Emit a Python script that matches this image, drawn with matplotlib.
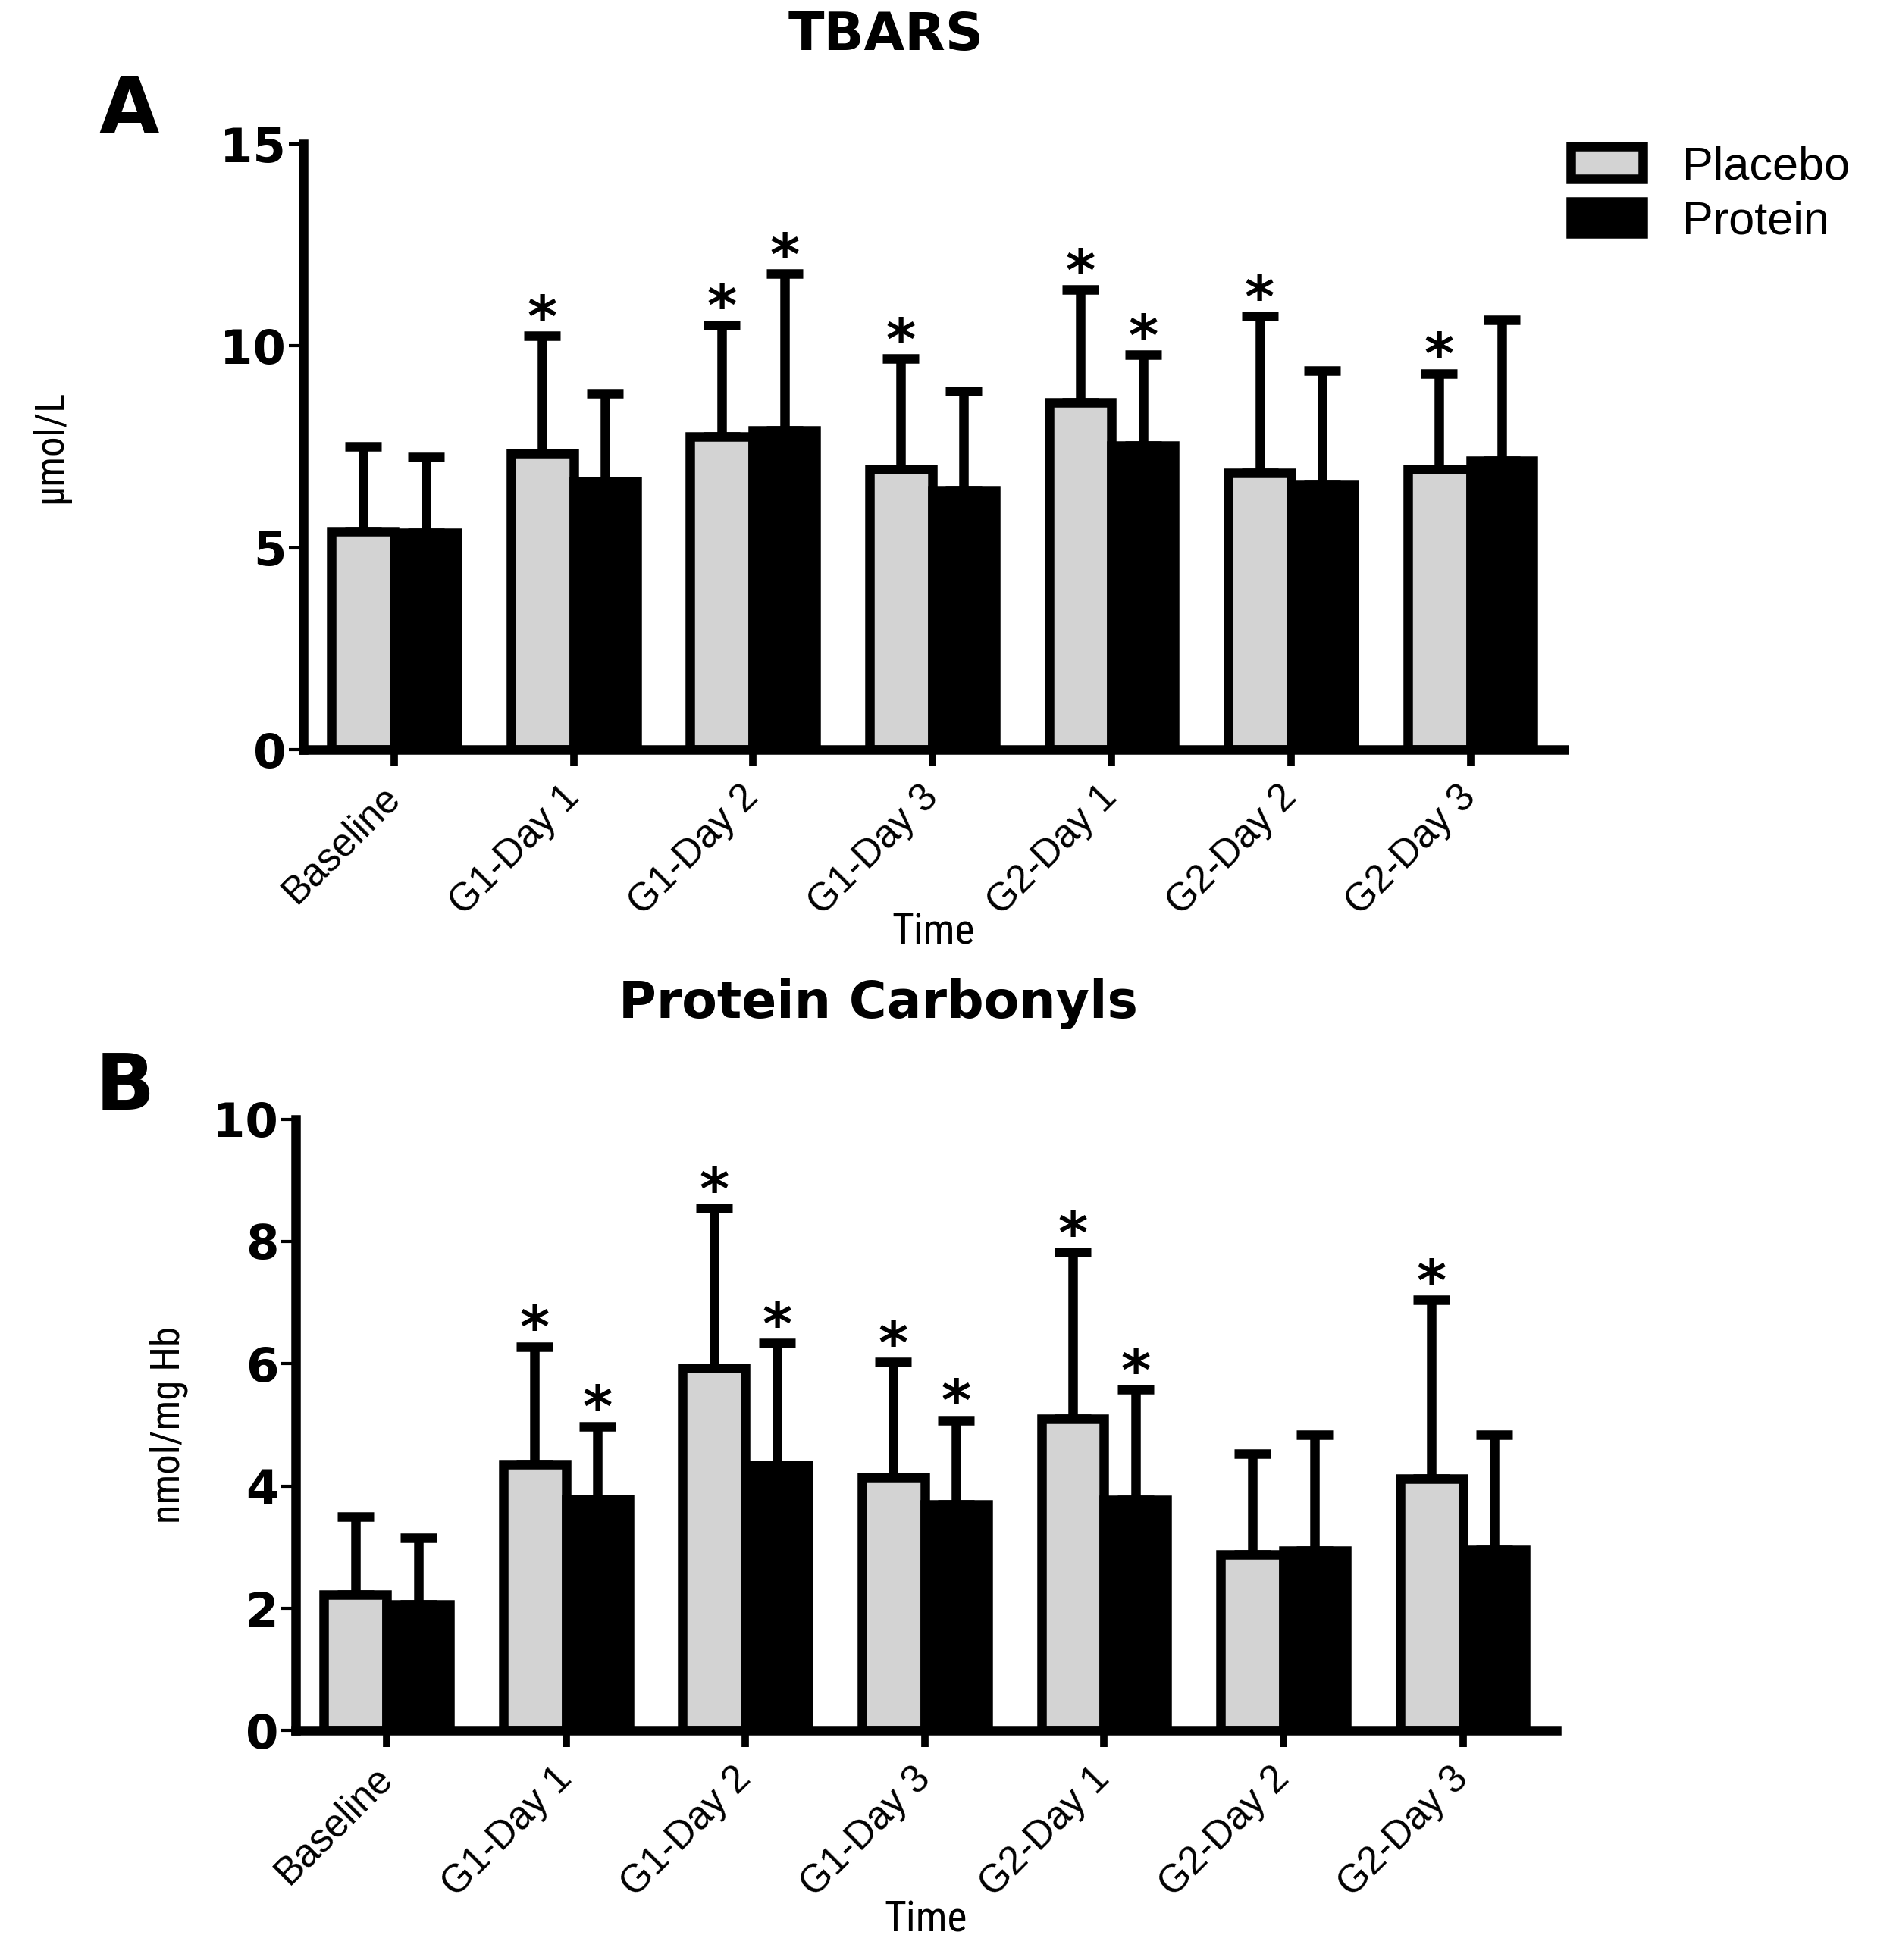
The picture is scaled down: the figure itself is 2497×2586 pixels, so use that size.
import numpy as np
import matplotlib
matplotlib.use("Agg")
import matplotlib.pyplot as plt
from matplotlib.patches import Patch
from matplotlib import font_manager

# data
times = ["Baseline", "G1-Day 1", "G1-Day 2", "G1-Day 3", "G2-Day 1", "G2-Day 2", "G2-Day 3"]

tbars_placebo = [5.40, 7.35, 7.75, 6.94, 8.60, 6.85, 6.94]
tbars_placebo_sd = [2.12, 2.90, 2.77, 2.75, 2.79, 3.89, 2.38]
tbars_protein = [5.37, 6.64, 7.90, 6.42, 7.53, 6.57, 7.16]
tbars_protein_sd = [1.88, 2.19, 3.89, 2.47, 2.25, 2.81, 3.49]
tbars_star_placebo = [False, True, True, True, True, True, True]
tbars_star_protein = [False, False, True, False, True, False, False]

carb_placebo = [2.22, 4.36, 5.93, 4.14, 5.10, 2.88, 4.12]
carb_placebo_sd = [1.28, 1.92, 2.61, 1.89, 2.72, 1.65, 2.92]
carb_protein = [2.06, 3.79, 4.34, 3.70, 3.77, 2.94, 2.96]
carb_protein_sd = [1.09, 1.19, 2.00, 1.38, 1.81, 1.90, 1.88]
carb_star_placebo = [False, True, True, True, True, False, True]
carb_star_protein = [False, True, True, True, True, False, False]

GREY = "#d3d3d3"
LW = 9

# a condensed face for the axis titles if one is around
names = {f.name for f in font_manager.fontManager.ttflist}
narrow = [n for n in ["Liberation Sans Narrow", "DejaVu Sans Condensed", "Roboto Condensed"] if n in names]
narrow = narrow + ["Liberation Sans", "DejaVu Sans"]

fig = plt.figure(figsize=(24.97, 25.86), dpi=100)


def draw_panel(ax, plac, plac_sd, prot, prot_sd, star_pl, star_pr, ymax, yticks, ylabel, xpad):
    x = np.arange(len(times))
    w = 0.35
    off = 0.175
    ax.bar(x - off, plac, w, color=GREY, edgecolor="black", linewidth=LW, zorder=2)
    ax.bar(x + off, prot, w, color="black", edgecolor="black", linewidth=LW, zorder=2)
    for xs, vals, sds in [(x - off, plac, plac_sd), (x + off, prot, prot_sd)]:
        ax.errorbar(xs, vals, yerr=[np.zeros(len(sds)), sds], fmt="none",
                    ecolor="black", elinewidth=LW, capsize=17, capthick=LW, zorder=1)
    # significance stars
    for i in range(len(times)):
        if star_pl[i]:
            ax.annotate("*", (x[i] - off, plac[i] + plac_sd[i]), xytext=(0, -12),
                        textcoords="offset points", ha="center", va="bottom",
                        fontsize=54, fontweight="bold")
        if star_pr[i]:
            ax.annotate("*", (x[i] + off, prot[i] + prot_sd[i]), xytext=(0, -12),
                        textcoords="offset points", ha="center", va="bottom",
                        fontsize=54, fontweight="bold")
    ax.set_xlim(-0.51, 6.52)
    ax.set_ylim(0, ymax)
    ax.set_yticks(yticks)
    ax.set_xticks(x)
    ax.set_xticklabels(times, rotation=45, ha="right", va="center", rotation_mode="anchor",
                       fontsize=37, family="Liberation Sans")
    for lab in ax.get_yticklabels():
        lab.set_fontsize(45)
        lab.set_fontweight("bold")
    ax.tick_params(axis="y", length=14, width=3, pad=2)
    ax.tick_params(axis="x", length=16, width=7, pad=24)
    for s in ["top", "right"]:
        ax.spines[s].set_visible(False)
    for s in ["left", "bottom"]:
        ax.spines[s].set_linewidth(LW)
    ax.set_xlabel("Time", fontsize=40, family=narrow, labelpad=xpad)
    ax.set_ylabel(ylabel, fontsize=38, family=narrow)


axA = fig.add_axes([0.160, 0.6175, 0.666, 0.309])
draw_panel(axA, tbars_placebo, tbars_placebo_sd, tbars_protein, tbars_protein_sd,
           tbars_star_placebo, tbars_star_protein, 15, [0, 5, 10, 15], "\u03bcmol/L", -10)
axA.yaxis.set_label_coords(-0.185, 0.5)

axB = fig.add_axes([0.156, 0.117, 0.666, 0.312])
draw_panel(axB, carb_placebo, carb_placebo_sd, carb_protein, carb_protein_sd,
           carb_star_placebo, carb_star_protein, 10, [0, 2, 4, 6, 8, 10], "nmol/mg Hb", -4)
axB.yaxis.set_label_coords(-0.085, 0.5)

fig.text(0.468, 0.982, "TBARS", fontsize=50, fontweight="bold", ha="center", va="center")
fig.text(0.464, 0.488, "Protein Carbonyls", fontsize=49, fontweight="bold", ha="center", va="center")
fig.text(0.068, 0.943, "A", fontsize=74, fontweight="bold", ha="center", va="center")
fig.text(0.066, 0.445, "B", fontsize=74, fontweight="bold", ha="center", va="center")

handles = [Patch(facecolor=GREY, edgecolor="black", linewidth=LW, label="Placebo"),
           Patch(facecolor="black", edgecolor="black", linewidth=LW, label="Protein")]
fig.legend(handles=handles, loc="upper left", bbox_to_anchor=(0.8175, 0.9375),
           frameon=False, handlelength=1.55, handleheight=0.7,
           labelspacing=0.25, handletextpad=0.85, borderpad=0,
           prop={"family": "Liberation Sans", "size": 44})

fig.savefig("out.png", dpi=100, facecolor="white")
